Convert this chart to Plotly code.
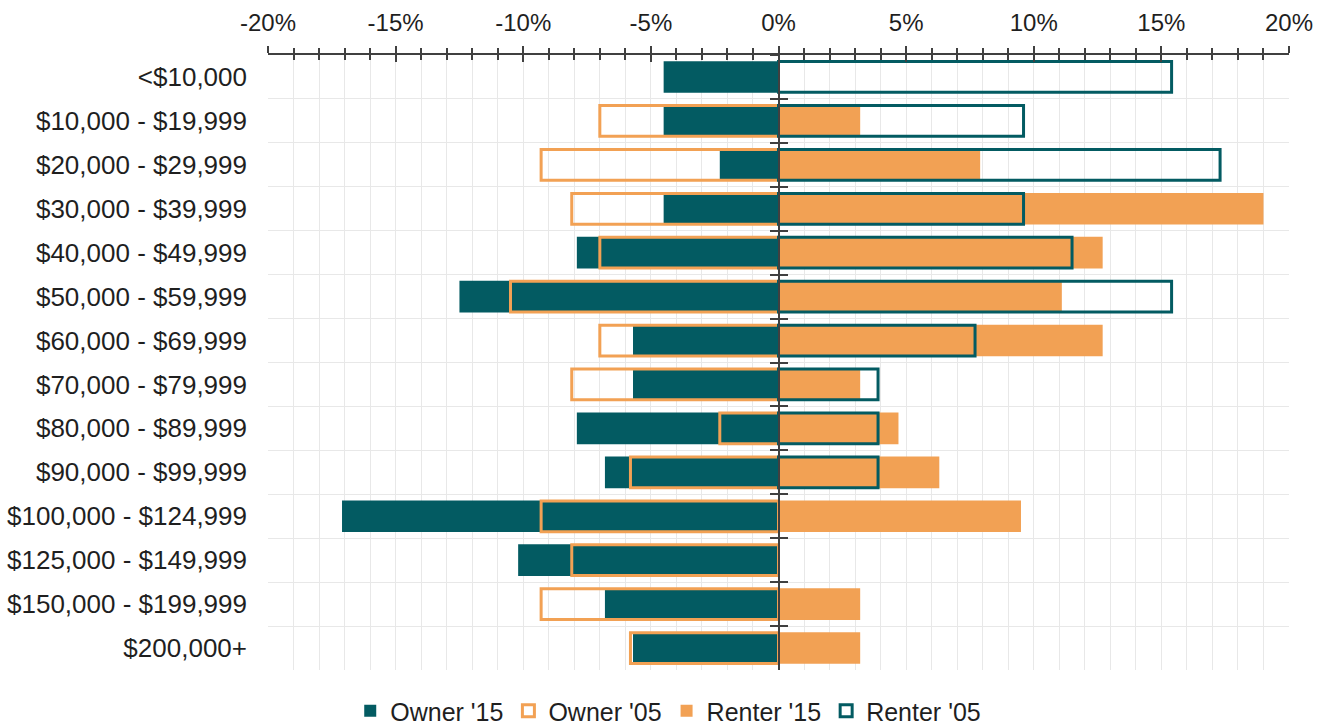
import plotly.graph_objects as go

# Household income brackets (top to bottom)
categories = ["<$10,000", "$10,000 - $19,999", "$20,000 - $29,999", "$30,000 - $39,999",
              "$40,000 - $49,999", "$50,000 - $59,999", "$60,000 - $69,999", "$70,000 - $79,999",
              "$80,000 - $89,999", "$90,000 - $99,999", "$100,000 - $124,999",
              "$125,000 - $149,999", "$150,000 - $199,999", "$200,000+"]

# Share of households (%); owners plotted to the left as negative values
owner_15 = [-4.5, -4.5, -2.3, -4.5, -7.9, -12.5, -5.7, -5.7, -7.9, -6.8, -17.1, -10.2, -6.8, -5.7]
owner_05 = [None, -7.0, -9.3, -8.1, -7.0, -10.5, -7.0, -8.1, -2.3, -5.8, -9.3, -8.1, -9.3, -5.8]
renter_15 = [None, 3.2, 7.9, 19.0, 12.7, 11.1, 12.7, 3.2, 4.7, 6.3, 9.5, None, 3.2, 3.2]
renter_05 = [15.4, 9.6, 17.3, 9.6, 11.5, 15.4, 7.7, 3.9, 3.9, 3.9, None, None, None, None]

x_tick_vals = [-20, -15, -10, -5, 0, 5, 10, 15, 20]
x_tick_text = ["-20%", "-15%", "-10%", "-5%", "0%", "5%", "10%", "15%", "20%"]

TEAL = "#035B62"
ORANGE = "#F2A154"
AXIS = "#404040"
GRID = "#E8E8E8"
TEXT = "#1F1F1F"
FONT = "Liberation Sans, Arial, sans-serif"

y_range = [len(categories) - 0.5, -0.5]

fig = go.Figure()

fig.add_trace(go.Bar(name="Owner '15", y=categories, x=owner_15, orientation="h",
                     width=0.72, marker=dict(color=TEAL, line=dict(width=0))))
fig.add_trace(go.Bar(name="Owner '05", y=categories, x=owner_05, orientation="h",
                     width=0.70, marker=dict(color="rgba(0,0,0,0)",
                                             line=dict(color=ORANGE, width=3))))
fig.add_trace(go.Bar(name="Renter '15", y=categories, x=renter_15, orientation="h",
                     width=0.72, marker=dict(color=ORANGE, line=dict(width=0))))
fig.add_trace(go.Bar(name="Renter '05", y=categories, x=renter_05, orientation="h",
                     width=0.70, marker=dict(color="rgba(0,0,0,0)",
                                             line=dict(color=TEAL, width=3))))

# helper traces that give the overlay axes their categories
fig.add_trace(go.Scatter(x=[0] * len(categories), y=categories, xaxis="x2", yaxis="y2",
                         mode="markers", marker=dict(opacity=0, size=1), showlegend=False,
                         hoverinfo="skip"))
fig.add_trace(go.Scatter(x=[0] * len(categories), y=categories, xaxis="x", yaxis="y3",
                         mode="markers", marker=dict(opacity=0, size=1), showlegend=False,
                         hoverinfo="skip"))

x_common = dict(range=[-20, 20], tickmode="array", tickvals=x_tick_vals,
                showline=True, linecolor=AXIS, linewidth=1.5, tickcolor=AXIS,
                tickwidth=1.5, ticklen=7, zeroline=False, automargin=False)

y_common = dict(type="category", categoryorder="array", categoryarray=categories,
                range=y_range, autorange=False, automargin=False)

fig.update_layout(
    width=1325, height=726,
    margin=dict(l=268, r=36, t=55, b=56, autoexpand=False),
    paper_bgcolor="white", plot_bgcolor="white",
    barmode="overlay",
    font=dict(family=FONT, size=24, color=TEXT),
    xaxis=dict(**x_common, side="top", ticks="outside", ticktext=x_tick_text,
               ticklabelstandoff=6, showgrid=True, gridcolor=GRID, gridwidth=1,
               tickfont=dict(size=24, color=TEXT),
               minor=dict(tickmode="linear", tick0=0, dtick=1, ticks="outside",
                          ticklen=5, tickcolor=AXIS, tickwidth=1.5,
                          showgrid=True, gridcolor=GRID, gridwidth=1)),
    xaxis2=dict(**x_common, side="top", overlaying="x", matches="x", anchor="y",
                ticks="inside", showticklabels=False, showgrid=False,
                minor=dict(tickmode="linear", tick0=0, dtick=1, ticks="inside",
                           ticklen=5, tickcolor=AXIS, tickwidth=1.5, showgrid=False)),
    yaxis=dict(**y_common, tickson="boundaries", showgrid=True,
               gridcolor=GRID, gridwidth=1, ticks="", ticklabelstandoff=20,
               showline=False, zeroline=False,
               tickfont=dict(size=26, color=TEXT)),
    yaxis2=dict(**y_common, overlaying="y", anchor="free", position=0.5,
                showline=True, linecolor=AXIS, linewidth=2, ticks="outside",
                tickson="boundaries", ticklen=8, tickcolor=AXIS, tickwidth=2,
                showticklabels=False, showgrid=False, layer="above traces"),
    yaxis3=dict(**y_common, overlaying="y", anchor="free", position=0.5,
                showline=True, linecolor=AXIS, linewidth=2, ticks="inside",
                tickson="boundaries", ticklen=8, tickcolor=AXIS, tickwidth=2,
                showticklabels=False, showgrid=False, layer="above traces"),
    legend=dict(orientation="h", xref="paper", yref="paper",
                x=0.392, y=-0.0667, xanchor="center", yanchor="middle",
                font=dict(size=25, color=TEXT), itemwidth=30,
                traceorder="normal", bgcolor="rgba(0,0,0,0)"),
    showlegend=True,
)

fig.write_html("out.html")
